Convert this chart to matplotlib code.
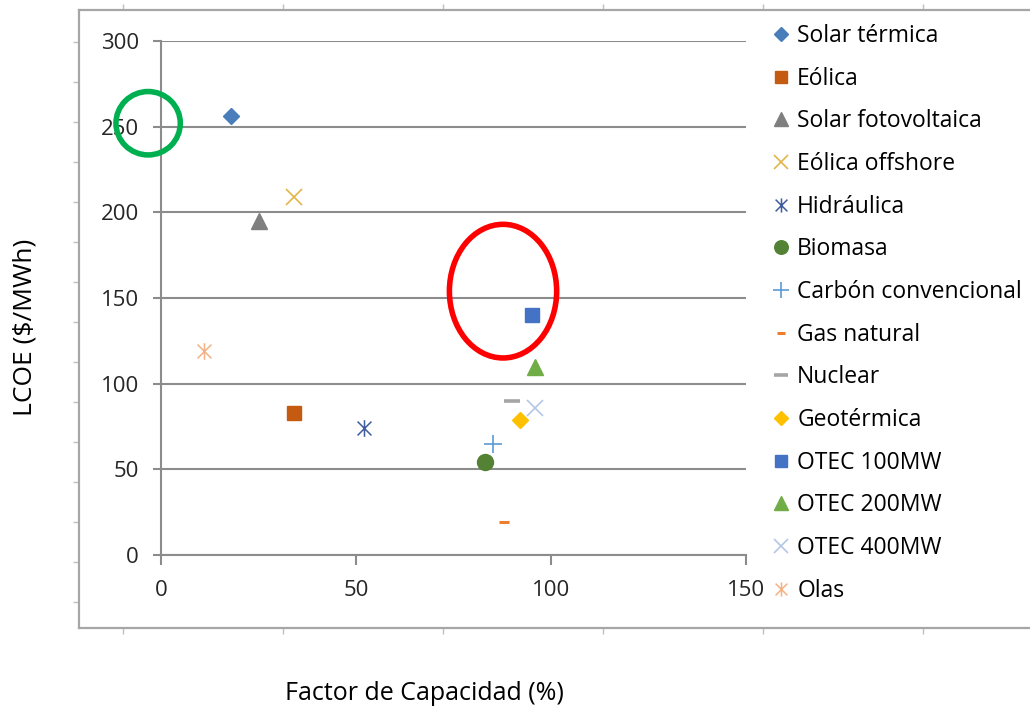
import matplotlib
matplotlib.use("Agg")
import matplotlib.pyplot as plt
from matplotlib.path import Path
from matplotlib.patches import Ellipse

# --- data -----------------------------------------------------------------
labels = ["Solar térmica", "Eólica", "Solar fotovoltaica", "Eólica offshore",
          "Hidráulica", "Biomasa", "Carbón convencional", "Gas natural",
          "Nuclear", "Geotérmica", "OTEC 100MW", "OTEC 200MW", "OTEC 400MW",
          "Olas"]
capacity = [18, 34, 25, 34, 52, 83, 85, 88, 90, 92, 95, 96, 96, 11]   # %
lcoe     = [256, 83, 195, 209, 74, 54, 65, 19, 90, 79, 140, 110, 86, 119]  # $/MWh

x_ticks = [0, 50, 100, 150]
y_ticks = [0, 50, 100, 150, 200, 250, 300]

# --- styles ---------------------------------------------------------------
asterisk = Path([(-1, -1), (1, 1), (-1, 1), (1, -1), (0, -1.2), (0, 1.2)],
                [Path.MOVETO, Path.LINETO, Path.MOVETO, Path.LINETO,
                 Path.MOVETO, Path.LINETO])

styles = [
    dict(marker="D", color="#4a7ebb", ms=8.5),
    dict(marker="s", color="#c55a11", ms=10.5),
    dict(marker="^", color="#7f7f7f", ms=12),
    dict(marker="x", color="#e3b448", ms=12, mew=1.2),
    dict(marker=asterisk, color="#3f5c9e", ms=12, mew=1.1),
    dict(marker="o", color="#548235", ms=11.5),
    dict(marker="+", color="#5b9bd5", ms=13, mew=1.2),
    dict(marker="_", color="#ed7d31", ms=7, mew=2.2),
    dict(marker="_", color="#a5a5a5", ms=12, mew=2.6),
    dict(marker="D", color="#ffc000", ms=8.5),
    dict(marker="s", color="#4472c4", ms=10.5),
    dict(marker="^", color="#70ad47", ms=12),
    dict(marker="x", color="#b4c7e7", ms=12, mew=1.2),
    dict(marker=asterisk, color="#f4b183", ms=12, mew=1.1),
]

FONT = "Open Sans"
GRID = "#8c8c8c"
plt.rcParams["font.family"] = [FONT, "DejaVu Sans"]

fig = plt.figure(figsize=(10.3, 7.12), dpi=100)

# outer chart frame (Excel chart area)
outer = fig.add_axes([79 / 1030, 84 / 712, 961 / 1030, 618 / 712])
outer.set_xlim(79, 1040)
outer.set_ylim(628, 10)
outer.set_xticks(range(123, 1040, 160))
outer.set_yticks(range(42, 628, 40))
outer.tick_params(which="both", direction="out", length=4, width=1,
                  color="#bfbfbf", labelleft=False, labelbottom=False,
                  top=True, labeltop=False)
for s in outer.spines.values():
    s.set_color("#a6a6a6")
    s.set_linewidth(1.6)
outer.patch.set_alpha(0)

# plot area
ax = fig.add_axes([161 / 1030, 157 / 712, 585 / 1030, 514 / 712])
ax.set_xlim(0, 150)
ax.set_ylim(0, 300)
ax.set_xticks(x_ticks)
ax.set_yticks(y_ticks)
ax.patch.set_alpha(0)
for side in ["top", "right"]:
    ax.spines[side].set_visible(False)
for side in ["left", "bottom"]:
    ax.spines[side].set_color(GRID)
    ax.spines[side].set_linewidth(1.5)
ax.yaxis.grid(True, color=GRID, linewidth=1.5)
ax.set_axisbelow(True)
ax.tick_params(axis="y", direction="out", length=6, width=1.5, color=GRID,
               labelsize=16, pad=10, labelcolor="#262626")
ax.tick_params(axis="x", direction="out", length=7, width=1.5, color=GRID,
               labelsize=16, pad=11, labelcolor="#262626")

handles = []
for lab, xv, yv, st in zip(labels, capacity, lcoe, styles):
    kw = dict(st)
    c = kw.pop("color")
    h, = ax.plot([xv], [yv], linestyle="none", color=c, mec=c, mfc=c,
                 label=lab, clip_on=False, zorder=3, **kw)
    handles.append(h)

# highlight marks drawn on top of the chart
ax.add_patch(Ellipse((-3.3, 252), 16.5, 37, fill=False, edgecolor="#00b050",
                     linewidth=4, clip_on=False, zorder=4))
ax.add_patch(Ellipse((87.7, 154), 27.5, 78, fill=False, edgecolor="#ff0000",
                     linewidth=4, clip_on=False, zorder=4))

fig.legend(handles=handles, loc="upper left",
           bbox_to_anchor=(772 / 1030, 1 - 24 / 712), frameon=False,
           fontsize=16.5, handlelength=0.8, handletextpad=0.3,
           labelspacing=0.815, borderpad=0, borderaxespad=0, markerscale=0.85)

fig.text(25 / 1030, 1 - 327 / 712, "LCOE ($/MWh)", rotation=90,
         ha="center", va="center", fontsize=19)
fig.text(424 / 1030, 1 - 694 / 712, "Factor de Capacidad (%)",
         ha="center", va="center", fontsize=18)

fig.savefig("out.png", dpi=100)
